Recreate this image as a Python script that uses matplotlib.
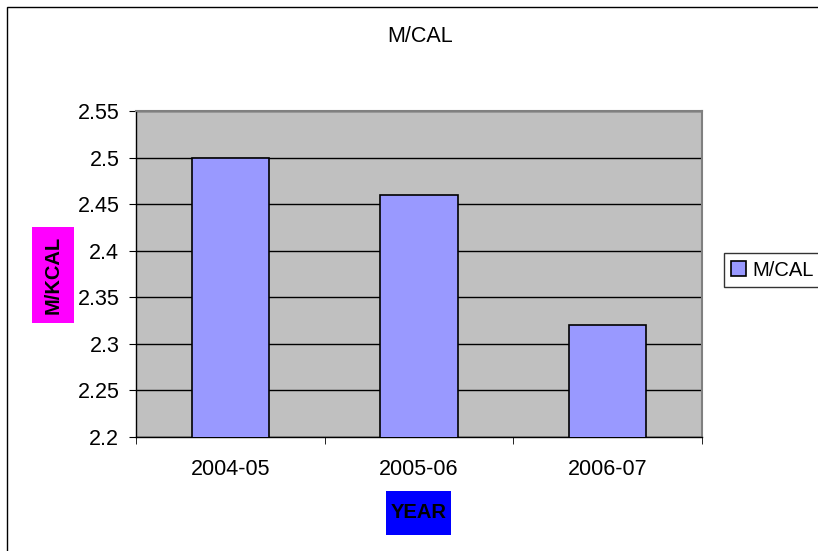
import matplotlib.pyplot as plt
from matplotlib.patches import Rectangle
import numpy as np

# data
years = ["2004-05", "2005-06", "2006-07"]
mcal = [2.50, 2.46, 2.32]

plt.rcParams['font.family'] = ['Liberation Sans', 'DejaVu Sans']

W, H = 818, 551
fs = 15.5
fig = plt.figure(figsize=(W / 100, H / 100), dpi=100)

# plot area in pixels: x 136..702, y 111..437
ax = fig.add_axes([136 / W, 1 - 437 / H, (702 - 136) / W, (437 - 111) / H])
ax.set_facecolor('#C0C0C0')

x = np.arange(len(years))
ax.bar(x, mcal, 0.41, bottom=0, color='#9999FF', edgecolor='black', linewidth=1.2,
       zorder=3, label='M/CAL')

ax.set_xlim(-0.5, len(years) - 0.5)
ax.set_ylim(2.2, 2.55)
yt = np.arange(2.2, 2.5501, 0.05)
ax.set_yticks(yt)
ax.set_yticklabels([f"{v:g}" for v in yt], fontsize=fs)
ax.yaxis.grid(True, color='black', linewidth=1, zorder=0)
ax.set_axisbelow(True)

ax.set_xticks(x)
ax.set_xticklabels(years, fontsize=fs)
ax.tick_params(axis='x', length=0, pad=16)
ax.set_xticks(np.arange(-0.5, len(years)), minor=True)
ax.tick_params(axis='x', which='minor', length=5, color='black')
ax.tick_params(axis='y', length=5, color='black', pad=7)

for s in ['top', 'right']:
    ax.spines[s].set_color('#808080')
    ax.spines[s].set_linewidth(1.5)
for s in ['left', 'bottom']:
    ax.spines[s].set_color('black')
    ax.spines[s].set_linewidth(1)

fig.text(420 / W, 1 - 37 / H, "M/CAL", ha='center', va='center', fontsize=fs)

# coloured label boxes
fig.patches.append(Rectangle((32 / W, 1 - 323 / H), 42 / W, 96 / H,
                             transform=fig.transFigure, facecolor='#FF00FF',
                             edgecolor='none', zorder=0))
fig.patches.append(Rectangle((386 / W, 1 - 535 / H), 65 / W, 44 / H,
                             transform=fig.transFigure, facecolor='#0000FF',
                             edgecolor='none', zorder=0))
fig.text(53 / W, 1 - 275 / H, "M/KCAL", rotation=90, ha='center', va='center',
         fontsize=14.5, fontweight='bold')
fig.text(418.5 / W, 1 - 513 / H, "YEAR", ha='center', va='center',
         fontsize=14.5, fontweight='bold')

leg = fig.legend(loc='center left', bbox_to_anchor=(724 / W, 1 - 270 / H),
                 fontsize=14.5, frameon=True, fancybox=False, edgecolor='black',
                 handlelength=0.75, handleheight=0.75, handletextpad=0.3,
                 borderpad=0.35, borderaxespad=0)
leg.get_frame().set_linewidth(1)

# outer chart border
fig.patches.append(Rectangle((7 / W, -0.1), 1.2, 1.1 - 7 / H, transform=fig.transFigure,
                             fill=False, edgecolor='black', linewidth=1))

fig.savefig('out.png', dpi=100)
